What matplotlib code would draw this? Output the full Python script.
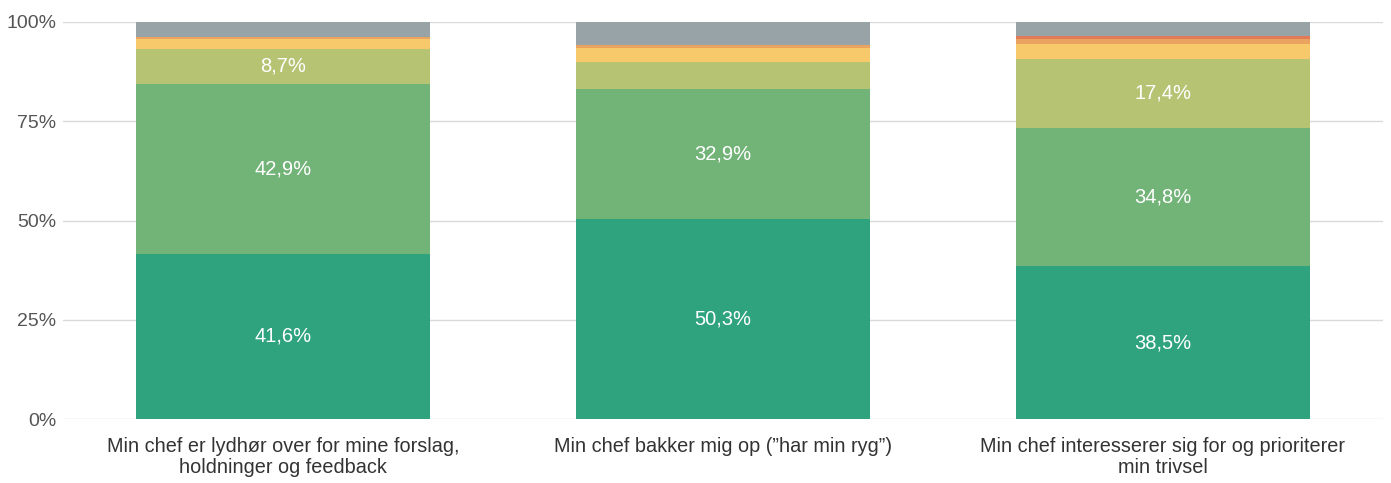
import matplotlib
matplotlib.use("Agg")
import matplotlib.pyplot as plt
import numpy as np

plt.rcParams['font.family'] = ['Liberation Sans', 'DejaVu Sans']

categories = ["Min chef er lydhør over for mine forslag,\nholdninger og feedback",
              "Min chef bakker mig op (\u201dhar min ryg\u201d)",
              "Min chef interesserer sig for og prioriterer\nmin trivsel"]
s1 = [41.6, 50.3, 38.5]   # dark green
s2 = [42.9, 32.9, 34.8]   # green
s3 = [8.7, 6.8, 17.4]     # olive
s4 = [2.6, 3.5, 3.8]      # yellow
s5 = [0.5, 0.8, 1.3]      # orange
s6 = [0.0, 0.0, 0.6]      # red
s7 = [3.7, 5.7, 3.6]      # grey
series = [s1, s2, s3, s4, s5, s6, s7]
colors = ["#2ea37e", "#72b378", "#b5c373", "#f7c96b", "#eba45f", "#e27a57", "#98a3a8"]
label_min = 8.0
yticks = [0, 25, 50, 75, 100]
ytick_labels = ["0%", "25%", "50%", "75%", "100%"]

fig = plt.figure(figsize=(13.91, 4.83), dpi=100)
ax = fig.add_axes([63/1391, 64/483, 1320/1391, 397/483])
x = np.arange(len(categories))
bottom = np.zeros(len(categories))
for i, (vals, c) in enumerate(zip(series, colors)):
    vals = np.array(vals)
    ax.bar(x, vals, bottom=bottom, width=0.668, color=c, zorder=2)
    if i < 3:
        for xi, v, b in zip(x, vals, bottom):
            if v >= label_min:
                ax.text(xi, b + v / 2, f"{v:.1f}".replace(".", ",") + "%",
                        ha="center", va="center", color="white", fontsize=14.5, zorder=3)
    bottom += vals

ax.set_xlim(-0.5, 2.5)
ax.set_ylim(0, 100)
ax.set_yticks(yticks)
ax.set_yticklabels(ytick_labels, color="#555555", fontsize=14)
ax.set_xticks(x)
ax.set_xticklabels(categories, color="#333333", fontsize=14.3, linespacing=1.1)
ax.yaxis.grid(True, color="#d9d9d9", linewidth=1, zorder=0)
ax.set_axisbelow(True)
for s in ax.spines.values():
    s.set_visible(False)
ax.tick_params(axis="both", length=0)
ax.tick_params(axis="y", pad=5)
ax.tick_params(axis="x", pad=13)
fig.savefig("out.png", dpi=100)
